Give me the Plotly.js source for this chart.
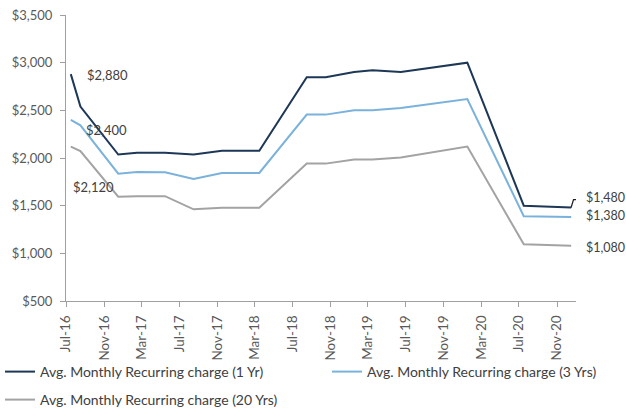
<!DOCTYPE html>
<html>
<head>
<meta charset="utf-8">
<script src="https://cdn.plot.ly/plotly-3.0.1.min.js"></script>
<style>html,body{margin:0;padding:0;background:#fff;}#chart{width:626px;height:412px;}</style>
</head>
<body>
<div id="chart"></div>
<script>
// Months of each observation (plotted at the middle of the month)
var months = ['2016-07','2016-08','2016-12','2017-02','2017-05','2017-08','2017-11','2018-03',
              '2018-08','2018-10','2019-01','2019-03','2019-06','2020-01','2020-07','2020-12'];
var charge1Yr  = [2880, 2540, 2036, 2055, 2055, 2036, 2075, 2075, 2847, 2847, 2902, 2920, 2902, 3000, 1500, 1480];
var charge3Yr  = [2400, 2343, 1836, 1853, 1850, 1780, 1843, 1843, 2455, 2455, 2500, 2500, 2524, 2618, 1390, 1380];
var charge20Yr = [2120, 2073, 1594, 1600, 1600, 1462, 1479, 1479, 1941, 1941, 1983, 1983, 2005, 2120, 1094, 1080];
var seriesNames = ['Avg. Monthly Recurring charge (1 Yr)', 'Avg. Monthly Recurring charge (3 Yrs)', 'Avg. Monthly Recurring charge (20 Yrs)'];
var colors = ['#1D3756', '#7AB2DC', '#A3A3A3'];
var legendIds = ['legend', 'legend3', 'legend2'];

var FONT = 'Lato, "Open Sans", sans-serif';
function mid(m){ return m + '-16'; }
function fmt(v){ return '$' + v.toLocaleString('en-US'); }

var data = [charge1Yr, charge3Yr, charge20Yr].map(function(vals, i){
  return {
    type: 'scatter', mode: 'lines', x: months, y: vals,
    xperiod: 'M1', xperiodalignment: 'middle',
    name: seriesNames[i], line: {color: colors[i], width: 2},
    legend: legendIds[i], hoverinfo: 'skip'
  };
});

var first = 0, last = months.length - 1;
var labFont = {family: FONT, size: 13, color: '#404040'};
var labFontR = {family: FONT, size: 12.5, color: '#404040'};
var annotations = [
  {x: mid(months[first]), y: charge1Yr[first], text: fmt(charge1Yr[first]), xshift: 14, yshift: -1, xanchor: 'left', yanchor: 'middle', font: labFont},
  {x: mid(months[first]), y: charge3Yr[first], text: fmt(charge3Yr[first]), xshift: 13, yshift: -10, xanchor: 'left', yanchor: 'middle', font: labFont},
  {x: mid(months[first]), y: charge20Yr[first], text: fmt(charge20Yr[first]), xshift: 0, yshift: -40, xanchor: 'left', yanchor: 'middle', font: labFont},
  {x: mid(months[last]), y: charge1Yr[last], text: fmt(charge1Yr[last]), xshift: 13, yshift: 10, xanchor: 'left', yanchor: 'middle', font: labFontR},
  {x: mid(months[last]), y: charge3Yr[last], text: fmt(charge3Yr[last]), xshift: 13, yshift: 2, xanchor: 'left', yanchor: 'middle', font: labFontR},
  {x: mid(months[last]), y: charge20Yr[last], text: fmt(charge20Yr[last]), xshift: 13, yshift: -2, xanchor: 'left', yanchor: 'middle', font: labFontR}
].map(function(a){ a.showarrow = false; a.xref = 'x'; a.yref = 'y'; return a; });

var shapes = [{
  type: 'path', xref: 'x', yref: 'y', xsizemode: 'pixel', ysizemode: 'pixel',
  xanchor: mid(months[last]), yanchor: charge1Yr[last],
  path: 'M0,0 L2.5,8 L8,8', line: {color: '#202020', width: 1.3}
}];

var axisGray = '#A0A0A0';
var tickFont = {family: FONT, size: 13, color: '#595959'};
var legFont = {family: FONT, size: 14, color: '#404040'};
function leg(x, yPix){
  return {
    orientation: 'h', xref: 'container', yref: 'container', x: x, xanchor: 'left',
    y: (412 - yPix) / 412, yanchor: 'middle', font: legFont, bgcolor: 'rgba(0,0,0,0)'
  };
}
var layout = {
  width: 626, height: 412,
  margin: {l: 66, r: 50, t: 15, b: 111},
  paper_bgcolor: '#fff', plot_bgcolor: '#fff',
  showlegend: true,
  xaxis: {
    type: 'date', range: ['2016-07-01', '2021-01-01'],
    tick0: '2016-07-01', dtick: 'M4', tickformat: '%b-%y', tickangle: -90,
    ticks: 'outside', ticklen: 5, tickcolor: axisGray, showline: true, linecolor: axisGray, linewidth: 1,
    showgrid: false, zeroline: false, tickfont: {family: FONT, size: 13.5, color: '#595959'},
    ticklabelstandoff: 3, fixedrange: true
  },
  yaxis: {
    range: [500, 3500], tick0: 500, dtick: 500, tickprefix: '$', tickformat: ',d',
    ticks: 'outside', ticklen: 5, tickcolor: axisGray, showline: true, linecolor: axisGray, linewidth: 1,
    showgrid: false, zeroline: false, tickfont: tickFont, ticklabelstandoff: 5, fixedrange: true
  },
  legend: leg(0, 372),
  legend3: leg(327 / 626, 372),
  legend2: leg(0, 400),
  annotations: annotations,
  shapes: shapes
};

Plotly.newPlot('chart', data, layout, {displayModeBar: false, staticPlot: true});
</script>
</body>
</html>
